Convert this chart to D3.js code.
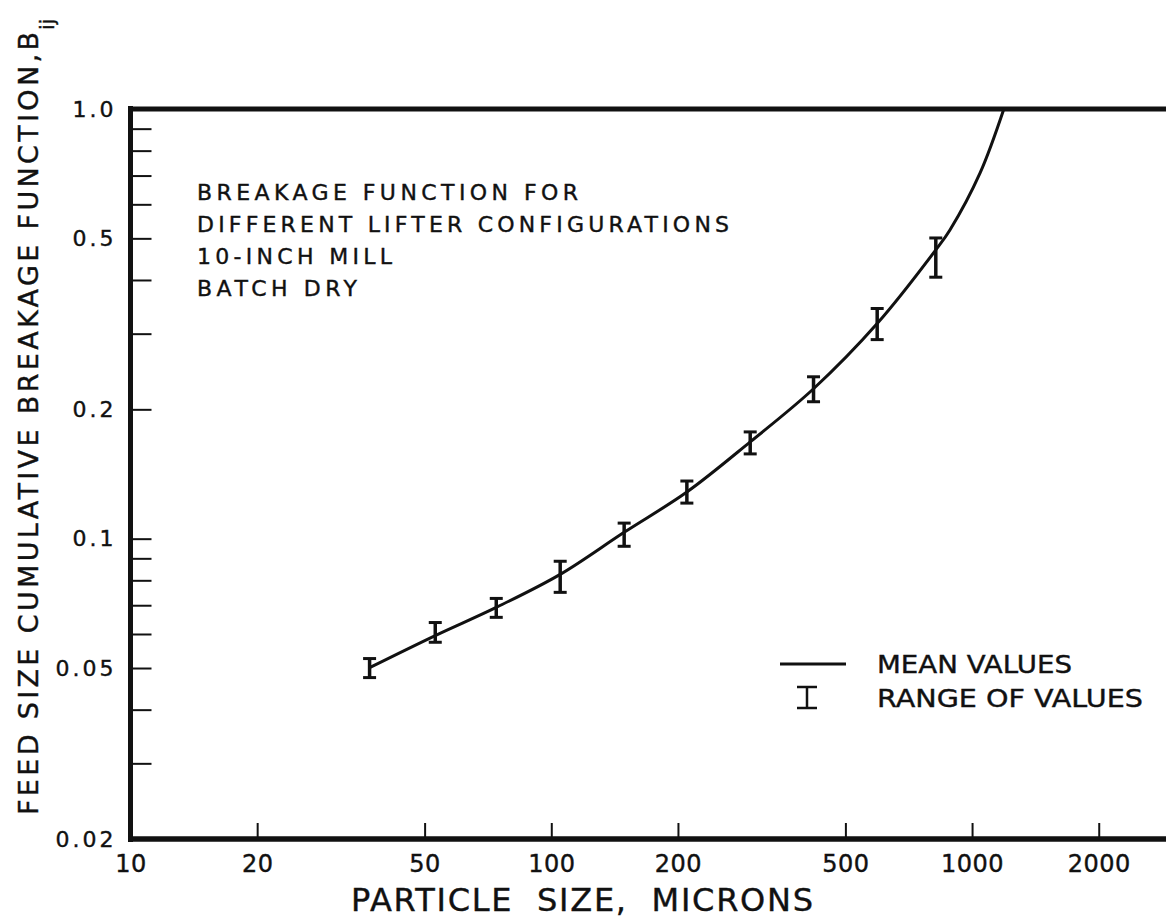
<!DOCTYPE html>
<html>
<head>
<meta charset="utf-8">
<script src="https://cdn.jsdelivr.net/npm/d3@7/dist/d3.min.js"></script>
<style>
  html, body { margin: 0; padding: 0; background: #fff; }
  svg { display: block; }
  text { font-family: "DejaVu Sans", "Liberation Sans", sans-serif; fill: #111; stroke: #111; stroke-width: 0.4px; }
</style>
</head>
<body>
<svg id="chart" width="1166" height="921"></svg>
<script>
// Feed sizes (microns)
const feedSizes = [37, 53, 74, 105, 149, 210, 297, 420, 595, 820];
// Mean cumulative breakage function at each feed size
const meanB = [0.0501, 0.0595, 0.0692, 0.0826, 0.1035, 0.1284, 0.168, 0.2233, 0.3167, 0.470];
// Range of values over the lifter configurations
const lowB  = [0.0475, 0.0574, 0.0656, 0.0750, 0.0960, 0.1210, 0.1575, 0.2083, 0.2906, 0.406];
const highB = [0.0526, 0.0638, 0.0726, 0.0886, 0.1087, 0.1362, 0.1772, 0.2381, 0.3433, 0.501];
// Mean curve continued up to the top size, where B = 1
const upperSizes = [886, 1045, 1190];
const upperB = [0.523, 0.710, 1.0];

// Axis ticks
const xTicks = [10, 20, 50, 100, 200, 500, 1000, 2000];
const xTickLabels = ["10", "20", "50", "100", "200", "500", "1000", "2000"];
const yTicks = [1.0, 0.5, 0.2, 0.1, 0.05, 0.02];
const yTickLabels = ["1.0", "0.5", "0.2", "0.1", "0.05", "0.02"];
const yMinorTicks = [0.9, 0.8, 0.7, 0.6, 0.4, 0.3, 0.09, 0.08, 0.07, 0.06, 0.04, 0.03];

const noteLines = ["BREAKAGE FUNCTION FOR", "DIFFERENT LIFTER CONFIGURATIONS", "10-INCH MILL", "BATCH DRY"];
const legendLabels = ["MEAN VALUES", "RANGE OF VALUES"];
const xTitle = "PARTICLE  SIZE,  MICRONS";
const yTitle = "FEED SIZE CUMULATIVE BREAKAGE FUNCTION,B";
const yTitleSub = "ij";

const svg = d3.select("#chart");

const x = d3.scaleLog().domain([10, 2890]).range([130.5, 1166]);
const y = d3.scaleLog().domain([0.02, 1]).range([839, 109]);

// Left axis: inward ticks, labels to the left
const yAxis = d3.axisLeft(y)
  .tickValues(yTicks)
  .tickFormat((d, i) => yTickLabels[i])
  .tickSizeInner(-21).tickSizeOuter(0).tickPadding(14);
const gy = svg.append("g").attr("transform", `translate(${x(10)},0)`).call(yAxis);
gy.attr("font-family", null).attr("font-size", null);
gy.select(".domain").remove();
gy.selectAll(".tick line").attr("stroke", "#111").attr("stroke-width", 2);
gy.selectAll(".tick text").attr("font-size", 22).attr("letter-spacing", 3).attr("fill", "#111");

const yMinor = d3.axisLeft(y).tickValues(yMinorTicks).tickFormat("").tickSizeInner(-21).tickSizeOuter(0);
const gym = svg.append("g").attr("transform", `translate(${x(10)},0)`).call(yMinor);
gym.select(".domain").remove();
gym.selectAll(".tick line").attr("stroke", "#111").attr("stroke-width", 2);

// Bottom axis: inward ticks
const xAxis = d3.axisBottom(x)
  .tickValues(xTicks)
  .tickFormat((d, i) => xTickLabels[i])
  .tickSizeInner(-16).tickSizeOuter(0).tickPadding(16);
const gx = svg.append("g").attr("transform", `translate(0,${y(0.02)})`).call(xAxis);
gx.attr("font-family", null).attr("font-size", null);
gx.select(".domain").remove();
gx.selectAll(".tick line").attr("stroke", "#111").attr("stroke-width", 2);
gx.selectAll(".tick").filter(d => d === 10).select("line").remove();
gx.selectAll(".tick text").attr("font-size", 24).attr("letter-spacing", 0.5).attr("fill", "#111");

// Heavy frame: left, top, bottom
const frame = svg.append("g").attr("stroke", "#111").attr("fill", "none");
frame.append("line").attr("x1", x(10)).attr("x2", x(10)).attr("y1", y(1) - 3).attr("y2", y(0.02) + 3).attr("stroke-width", 5);
frame.append("line").attr("x1", x(10) - 2.5).attr("x2", 1166).attr("y1", y(1)).attr("y2", y(1)).attr("stroke-width", 5);
frame.append("line").attr("x1", x(10) - 2.5).attr("x2", 1166).attr("y1", y(0.02)).attr("y2", y(0.02)).attr("stroke-width", 5.5);

// Mean values curve
const curvePts = feedSizes.map((s, i) => [s, meanB[i]])
  .concat(upperSizes.map((s, i) => [s, upperB[i]]));
const line = d3.line().x(d => x(d[0])).y(d => y(d[1])).curve(d3.curveCatmullRom.alpha(0.5));
svg.append("path").datum(curvePts)
  .attr("d", line).attr("fill", "none").attr("stroke", "#111").attr("stroke-width", 3);

// Range bars
const capW = 13;
const bars = svg.append("g").attr("stroke", "#111");
feedSizes.forEach((s, i) => {
  const cx = x(s);
  bars.append("line").attr("x1", cx).attr("x2", cx).attr("y1", y(highB[i])).attr("y2", y(lowB[i])).attr("stroke-width", 3.5);
  bars.append("line").attr("x1", cx - capW / 2).attr("x2", cx + capW / 2).attr("y1", y(highB[i])).attr("y2", y(highB[i])).attr("stroke-width", 3);
  bars.append("line").attr("x1", cx - capW / 2).attr("x2", cx + capW / 2).attr("y1", y(lowB[i])).attr("y2", y(lowB[i])).attr("stroke-width", 3);
});

// Note text
const noteLens = [381, 532, 195, 160];
noteLines.forEach((t, i) => {
  svg.append("text").attr("x", 197).attr("y", 200 + i * 32)
    .attr("font-size", 22).attr("textLength", noteLens[i]).attr("lengthAdjust", "spacing")
    .text(t);
});

// Legend
const lg = svg.append("g");
lg.append("line").attr("x1", 780).attr("x2", 846).attr("y1", 664).attr("y2", 664).attr("stroke", "#111").attr("stroke-width", 3);
lg.append("line").attr("x1", 807).attr("x2", 807).attr("y1", 687).attr("y2", 708).attr("stroke", "#111").attr("stroke-width", 2.5);
lg.append("line").attr("x1", 797).attr("x2", 817).attr("y1", 687).attr("y2", 687).attr("stroke", "#111").attr("stroke-width", 2.5);
lg.append("line").attr("x1", 797).attr("x2", 817).attr("y1", 708).attr("y2", 708).attr("stroke", "#111").attr("stroke-width", 2.5);
lg.append("text").attr("x", 877).attr("y", 673).attr("font-size", 25).attr("textLength", 195).attr("lengthAdjust", "spacingAndGlyphs").text(legendLabels[0]);
lg.append("text").attr("x", 877).attr("y", 707).attr("font-size", 25).attr("textLength", 266).attr("lengthAdjust", "spacingAndGlyphs").text(legendLabels[1]);

// X axis title
svg.append("text").attr("x", 351).attr("y", 911)
  .attr("font-size", 32).attr("textLength", 462).attr("lengthAdjust", "spacing")
  .style("white-space", "pre")
  .text(xTitle);

// Y axis title with subscript
const yt = svg.append("g");
yt.append("text").attr("transform", "translate(38,815) rotate(-90)")
  .attr("font-size", 27).attr("textLength", 783).attr("lengthAdjust", "spacing")
  .text(yTitle);
yt.append("text").attr("transform", "translate(54,30) rotate(-90)")
  .attr("font-size", 20).text(yTitleSub);
</script>
</body>
</html>
